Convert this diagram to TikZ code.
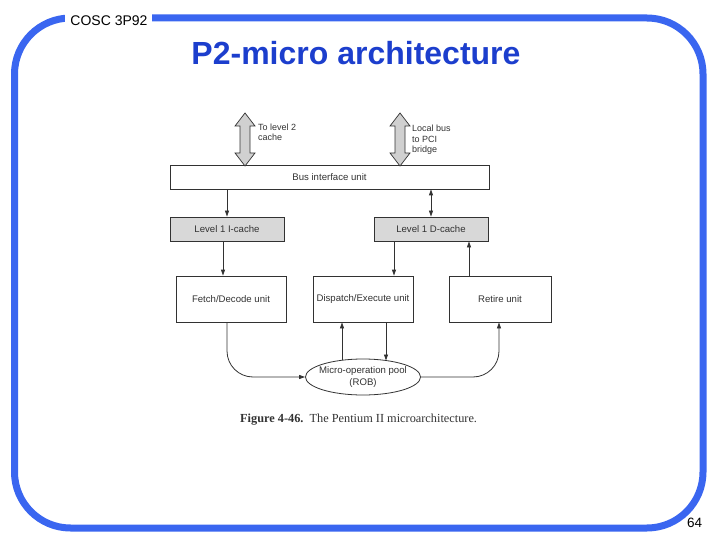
\documentclass[tikz,border=0pt]{standalone}
\usepackage{fontspec}
\setmainfont{Liberation Sans}
\newfontfamily\capfont{Liberation Serif}
\usetikzlibrary{arrows.meta,shapes.geometric,calc}
\definecolor{frameblue}{RGB}{58,102,240}
\definecolor{titleblue}{RGB}{28,62,205}
\definecolor{boxgray}{RGB}{216,216,216}
\definecolor{fatgray}{RGB}{208,208,208}
\definecolor{ln}{RGB}{50,50,50}
\tikzset{
  frame/.style={draw=frameblue,line width=7pt},
  unit/.style={draw=ln,line width=0.8pt,rectangle,inner sep=0pt,font=\fontsize{9.6}{11}\selectfont,text=ln},
  graybox/.style={unit,fill=boxgray},
  arr/.style={draw=ln,line width=0.8pt,-{Triangle[length=6pt,width=4pt]}},
  darr/.style={draw=ln,line width=0.8pt,{Triangle[length=6pt,width=4pt]}-{Triangle[length=6pt,width=4pt]}},
  fat/.style={draw=ln,line width=0.7pt,fill=fatgray,line join=miter},
  lbl/.style={font=\fontsize{9}{10.5}\selectfont,text=ln,align=left,inner sep=0pt,anchor=west}
}
\begin{document}
\begin{tikzpicture}[x=1pt,y=-1pt]
\useasboundingbox (0,0) rectangle (720,540);
% frame
\draw[frame,rounded corners=56pt] (14.5,18) rectangle (703,528);
\node[fill=white,minimum width=87pt,minimum height=18pt,inner sep=0pt] (hdrgap) at (108.5,19) {};
\node[anchor=base,inner sep=0pt,font=\fontsize{14}{16}\selectfont] (hdr) at (109,26) {COSC 3P92};
\node[anchor=base,inner sep=0pt,font=\fontsize{32}{36}\selectfont\bfseries,text=titleblue] (title) at (356,65) {P2-micro architecture};
\node[anchor=base,inner sep=0pt,font=\fontsize{13.5}{16}\selectfont] (pg) at (694.5,527) {64};

% units
\node[unit,minimum width=319pt,minimum height=24pt] (bus) at (329.5,177) {Bus interface unit};
\node[graybox,minimum width=114pt,minimum height=24pt] (icache) at (227,229) {Level 1 I-cache};
\node[graybox,minimum width=114pt,minimum height=24pt] (dcache) at (431,229) {Level 1 D-cache};
\node[unit,minimum width=110pt,minimum height=46pt] (fetch) at (231,299) {Fetch/Decode unit};
\node[unit,minimum width=100pt,minimum height=46pt] (dispatch) at (363,299) {Dispatch/Execute unit};
\node[unit,minimum width=102pt,minimum height=46pt] (retire) at (500,299) {Retire unit};
\node[unit,ellipse,minimum width=115pt,minimum height=36pt] (rob) at (363,377) {};
\node[font=\fontsize{9.6}{11.5}\selectfont,text=ln,align=center,inner sep=0pt] (robtxt) at (rob.center) {Micro-operation pool\\(ROB)};

% fat double arrows
\coordinate (l2) at (245,113);
\coordinate (pci) at (400,113);
\foreach \c in {l2,pci}{
  \draw[fat] (\c) -- ++(10,13) -- ++(-5,0) -- ++(0,27) -- ++(5,0) -- ++(-10,13)
     -- ++(-10,-13) -- ++(5,0) -- ++(0,-27) -- ++(-5,0) -- cycle;
}
\node[lbl] (l2lbl) at (258,132.5) {To level 2\\cache};
\node[lbl] (pcilbl) at (412,140) {Local bus\\to PCI\\bridge};

% connectors
\draw[arr] (icache.north |- bus.south) -- (icache.north);
\draw[darr] (dcache.north |- bus.south) -- (dcache.north);
\draw[arr] ([xshift=-4pt]icache.south) -- ([xshift=-4pt]icache.south |- fetch.north);
\draw[arr] ([xshift=31pt]dispatch.north |- dcache.south) -- ([xshift=31pt]dispatch.north);
\draw[arr] ([xshift=-31pt]retire.north) -- ([xshift=-31pt]retire.north |- dcache.south);
\draw[arr] ($(rob.center)+(-21,-16.8)$) -- ([xshift=-21pt]dispatch.south);
\draw[arr] ([xshift=23pt]dispatch.south) -- ($(rob.center)+(23,-16.5)$);
\draw[arr,rounded corners=26pt] ([xshift=-4pt]fetch.south) |- (rob.west);
\draw[arr,rounded corners=26pt] (rob.east) -| ([xshift=-1pt]retire.south);

% caption
\node[anchor=base west,inner sep=0pt,font=\capfont\fontsize{12.3}{14}\selectfont,text=ln] (cap) at (240,422)
  {\textbf{Figure 4-46.}\ \ The Pentium II microarchitecture.};
\end{tikzpicture}
\end{document}
